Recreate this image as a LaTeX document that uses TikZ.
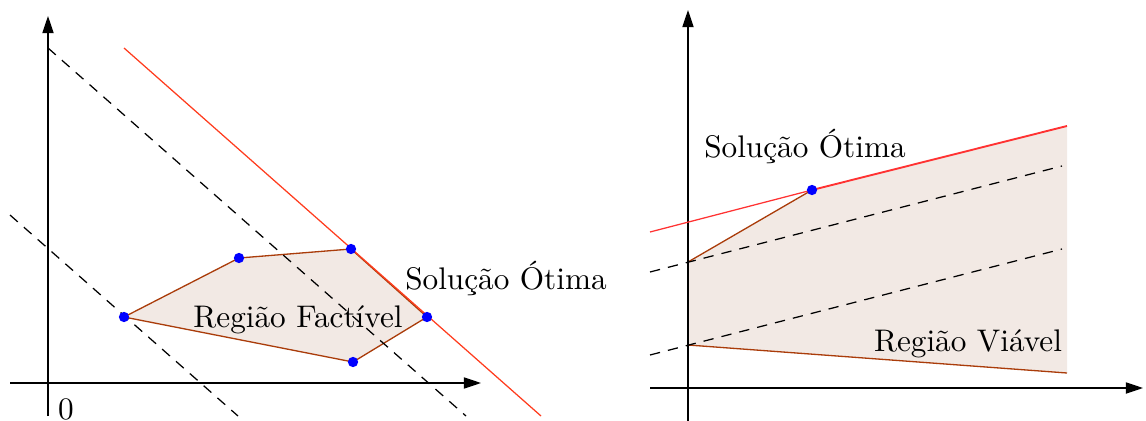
\documentclass[tikz,border=0pt]{standalone}
\usetikzlibrary{arrows.meta}
\definecolor{edgebrown}{RGB}{170,60,10}
\definecolor{regionfill}{RGB}{242,233,228}
\definecolor{optred}{RGB}{255,60,30}
\definecolor{optred2}{RGB}{255,50,50}
\tikzset{
  axis/.style={line width=0.42pt,-{Triangle[length=5.5pt,width=3.6pt]}},
  level/.style={dash pattern=on 3.3pt off 2.6pt,line width=0.4pt},
  border/.style={edgebrown,line width=0.42pt},
  region/.style={fill=regionfill},
  vertex/.style={circle,fill=blue,inner sep=0pt,minimum size=3.3pt},
  lbl/.style={font=\normalsize,inner sep=0pt}
}
\begin{document}
\begin{tikzpicture}[x=0.32pt,y=-0.32pt]
\useasboundingbox (0,0) rectangle (1146,421);
% ---------- left panel ----------
\coordinate (la) at (124,317);
\coordinate (lb) at (239,258);
\coordinate (lc) at (351,249);
\coordinate (ld) at (427,317);
\coordinate (le) at (353,362);
\fill[region] (la) -- (lb) -- (lc) -- (ld) -- (le) -- cycle;
\draw[border] (la) -- (lb) -- (lc) -- (ld) -- (le) -- cycle;
\coordinate (lxs) at (10,383);
\coordinate (lxe) at (481,383);
\coordinate (lys) at (48,416);
\coordinate (lye) at (48,16);
\draw[axis] (lxs) -- (lxe);
\draw[axis] (lys) -- (lye);
\coordinate (d1s) at (48,48);
\coordinate (d1e) at (466,416);
\coordinate (d2s) at (10,215);
\coordinate (d2e) at (238,416);
\draw[level] (d1s) -- (d1e);
\draw[level] (d2s) -- (d2e);
\coordinate (rs) at (124,48);
\coordinate (re) at (541,416);
\draw[optred,line width=0.4pt] (rs) -- (re);
\foreach \p in {la,lb,lc,ld,le} \node[vertex] (v\p) at (\p) {};
\node[lbl] (zero) at (66,409) {0};
\node[lbl] (lfact) at (298,320) {Região Factível};
\node[lbl] (lopt) at (506,278) {Solução Ótima};
% ---------- right panel ----------
\coordinate (ra) at (688,262);
\coordinate (rb) at (812,190);
\coordinate (rc) at (1067,126);
\coordinate (rd) at (1067,373);
\coordinate (re2) at (688,345);
\fill[region] (ra) -- (rb) -- (rc) -- (rd) -- (re2) -- cycle;
\draw[border] (re2) -- (ra) -- (rb);
\draw[border] (re2) -- (rd);
\coordinate (rxs) at (650,388);
\coordinate (rxe) at (1143,388);
\coordinate (rys) at (688,421);
\coordinate (rye) at (688,10);
\draw[axis] (rxs) -- (rxe);
\draw[axis] (rys) -- (rye);
\coordinate (u1s) at (650,272);
\coordinate (u1e) at (1062,166);
\coordinate (u2s) at (650,355);
\coordinate (u2e) at (1062,249);
\draw[level] (u1s) -- (u1e);
\draw[level] (u2s) -- (u2e);
\coordinate (os) at (650,232);
\draw[optred2,line width=0.4pt] (os) -- (rb);
\draw[optred2,line width=0.6pt] (rb) -- (rc);
\node[vertex] (vrb) at (rb) {};
\node[lbl] (ropt) at (805,146) {Solução Ótima};
\node[lbl] (rviav) at (968,344) {Região Viável};
\end{tikzpicture}
\end{document}
